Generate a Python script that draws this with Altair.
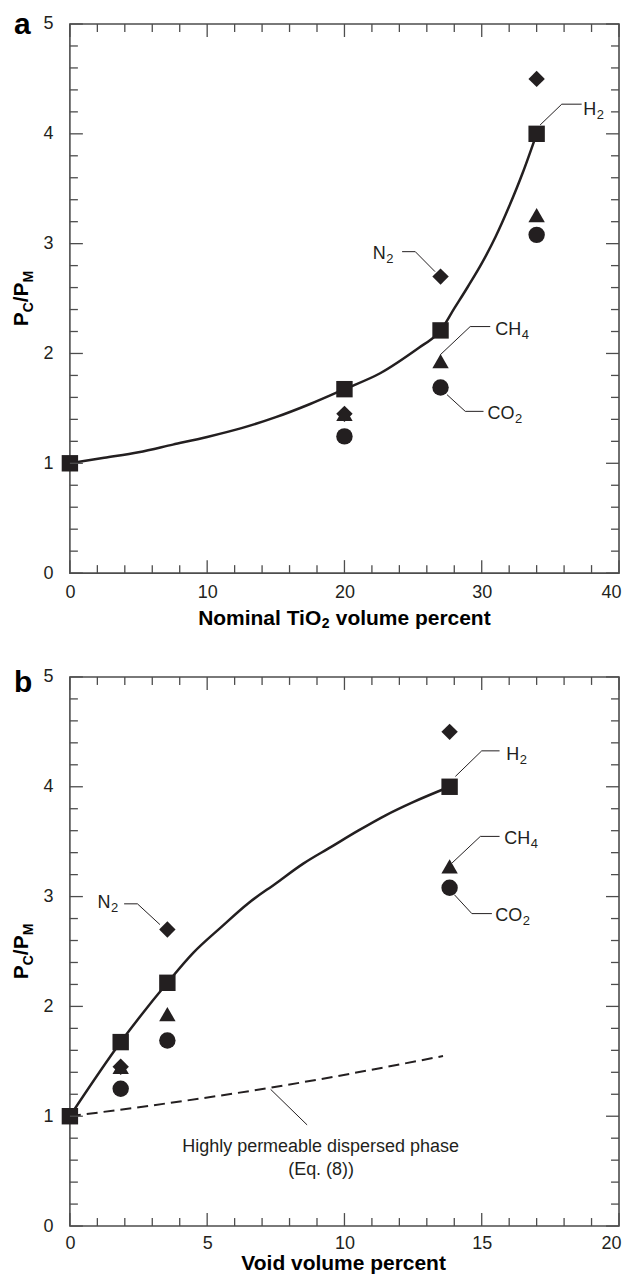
import altair as alt
import pandas as pd

FONT = "Liberation Sans"
INK = "#231f20"
AX = "#4d4d4d"
W = H = 550

# ---------------- data: panel a (nominal TiO2 volume percent) ----------------
gases = ["H2", "N2", "CH4", "CO2"]
shapes = ["square", "diamond", "triangle-up", "circle"]

a_h2_x = [0, 20, 27, 34]
a_h2_y = [1.00, 1.675, 2.21, 4.00]
a_other_x = [20, 27, 34]
a_n2_y = [1.45, 2.70, 4.50]
a_ch4_y = [1.45, 1.93, 3.26]
a_co2_y = [1.245, 1.69, 3.08]

a_curve_x = [0, 2.5, 5, 7.5, 10, 12.5, 15, 17.5, 20, 22.6, 25.4, 26.7, 27, 28, 29, 30, 31, 32, 33, 34]
a_curve_y = [1.00, 1.05, 1.10, 1.17, 1.24, 1.32, 1.42, 1.54, 1.675, 1.82, 2.05, 2.17, 2.21,
             2.41, 2.61, 2.82, 3.06, 3.34, 3.65, 4.00]

# ---------------- data: panel b (void volume percent) ----------------
b_h2_x = [0, 1.85, 3.55, 13.83]
b_h2_y = [1.00, 1.675, 2.215, 4.00]
b_other_x = [1.85, 3.55, 13.83]
b_n2_y = [1.45, 2.70, 4.50]
b_ch4_y = [1.45, 1.93, 3.275]
b_co2_y = [1.25, 1.69, 3.08]

b_curve_x = [0, 1.85, 3.55, 4.5, 5.5, 6.5, 7.5, 8.5, 9.5, 10.5, 11.5, 12.5, 13.83]
b_curve_y = [1.00, 1.675, 2.215, 2.49, 2.72, 2.94, 3.12, 3.30, 3.45, 3.60, 3.74, 3.86, 4.00]

b_dash_x = [0, 3.55, 7.31, 8.4, 13.59]
b_dash_y = [1.00, 1.118, 1.26, 1.306, 1.548]

# ---------------- labels (main text, subscript) ----------------
a_label_main = ["H", "N", "CH", "CO"]
a_label_sub = ["2", "2", "4", "2"]
a_label_x = [37.4, 22.07, 30.98, 30.42]
a_label_y = [4.22, 2.905, 2.21, 1.45]
a_leader_x = [[34.25, 35.83, 37.28], [24.2, 25.16, 26.6], [26.98, 29.16, 30.62], [27.47, 28.8, 30.13]]
a_leader_y = [[4.08, 4.27, 4.27], [2.927, 2.927, 2.745], [1.988, 2.245, 2.245], [1.625, 1.473, 1.473]]

b_label_main = ["H", "N", "CH", "CO"]
b_label_sub = ["2", "2", "4", "2"]
b_label_x = [15.89, 1.007, 15.82, 15.49]
b_label_y = [4.29, 2.943, 3.525, 2.827]
b_leader_x = [[14.04, 15.0, 15.65], [1.975, 2.46, 3.28], [13.92, 14.95, 15.65], [14.0, 14.64, 15.37], [7.31, 8.64]]
b_leader_y = [[4.094, 4.327, 4.327], [2.934, 2.934, 2.745], [3.306, 3.548, 3.548], [3.018, 2.845, 2.845], [1.245, 0.921]]
b_note_text = ["Highly permeable dispersed phase", "(Eq. (8))"]
b_note_x = [9.13, 9.15]
b_note_y = [0.723, 0.512]

# ---------------- ticks ----------------
a_x_major = [0, 10, 20, 30, 40]
a_x_minor = [2, 4, 6, 8, 12, 14, 16, 18, 22, 24, 26, 28, 32, 34, 36, 38]
b_x_major = [0, 5, 10, 15, 20]
b_x_minor = [1, 2, 3, 4, 6, 7, 8, 9, 11, 12, 13, 14, 16, 17, 18, 19]
y_major = [0, 1, 2, 3, 4, 5]
y_minor = [0.2, 0.4, 0.6, 0.8, 1.2, 1.4, 1.6, 1.8, 2.2, 2.4, 2.6, 2.8,
           3.2, 3.4, 3.6, 3.8, 4.2, 4.4, 4.6, 4.8]

# approximate Arial/Liberation advance widths (em)
REG = {"H": 0.722, "N": 0.722, "C": 0.722, "O": 0.778}


def text_piece(t, x, y, fs, weight="normal", align="left", baseline="middle",
               angle=None, dx=0, dy=0):
    kw = dict(font=FONT, fontSize=fs, fontWeight=weight, color=INK if weight == "normal" else "black",
              align=align, baseline=baseline, dx=dx, dy=dy)
    if angle is not None:
        kw["angle"] = angle
    return (alt.Chart(pd.DataFrame({"t": [t]})).mark_text(**kw)
            .encode(text="t:N", x=x, y=y))


def panel(letter, letter_base, xdom, x_major, x_minor, title_pieces, title_y, xpad,
          pts, curve, dash, lab_main, lab_sub, lab_x, lab_y, leaders, notes):
    xmax = xdom[1]
    xaxis = alt.Axis(values=x_major, ticks=False, domain=False, grid=False,
                     labelFont=FONT, labelFontSize=18, labelColor=INK,
                     labelPadding=xpad, labelFlush=False, labelOverlap=False,
                     labelAlign={"condition": {"test": f"datum.value == {xmax}", "value": "right"},
                                 "value": "center"},
                     labelOffset={"condition": {"test": f"datum.value == {xmax}", "value": 2},
                                  "value": 0},
                     title=None, format="d")
    yaxis = alt.Axis(values=y_major, ticks=False, domain=False, grid=False,
                     labelFont=FONT, labelFontSize=18, labelColor=INK,
                     labelPadding=17, labelFlush=False, labelOverlap=False,
                     title=None, format="d")

    def X(f="x"):
        return alt.X(f + ":Q", scale=alt.Scale(domain=xdom, nice=False, zero=False), axis=xaxis)

    def Y(f="y"):
        return alt.Y(f + ":Q", scale=alt.Scale(domain=[0, 5], nice=False, zero=False), axis=yaxis)

    layers = []
    layers.append(alt.Chart(curve).mark_line(color=INK, strokeWidth=2.5, interpolate="monotone")
                  .encode(x=X(), y=Y()))
    if dash is not None:
        layers.append(alt.Chart(dash).mark_line(color=INK, strokeWidth=2, strokeDash=[11, 6],
                                                interpolate="monotone")
                      .encode(x=X(), y=Y()))
    layers.append(alt.Chart(leaders).mark_line(color=INK, strokeWidth=1)
                  .encode(x=X(), y=Y(), detail="seg:N", order="ord:Q"))
    layers.append(alt.Chart(pts).mark_point(filled=True, opacity=1, color=INK, size=270)
                  .encode(x=X(), y=Y(),
                          shape=alt.Shape("gas:N", scale=alt.Scale(domain=gases, range=shapes),
                                          legend=None)))
    # gas labels with real subscripts
    for m, s, lx, ly in zip(lab_main, lab_sub, lab_x, lab_y):
        df = pd.DataFrame({"x": [lx], "y": [ly], "t": [m]})
        layers.append(alt.Chart(df).mark_text(font=FONT, fontSize=18, color=INK,
                                              align="left", baseline="middle")
                      .encode(x=X(), y=Y(), text="t:N"))
        wpx = sum(REG[c] for c in m) * 18 + 0.5
        df2 = pd.DataFrame({"x": [lx], "y": [ly], "t": [s]})
        layers.append(alt.Chart(df2).mark_text(font=FONT, fontSize=13, color=INK,
                                               align="left", baseline="middle", dx=wpx, dy=5)
                      .encode(x=X(), y=Y(), text="t:N"))
    if notes is not None:
        layers.append(alt.Chart(notes).mark_text(font=FONT, fontSize=18, color=INK,
                                                 align="center", baseline="middle")
                      .encode(x=X(), y=Y(), text="label:N"))

    # inward ticks on all four sides
    for vals, ln in ((x_major, 13), (x_minor, 8)):
        df = pd.DataFrame({"x": vals})
        layers.append(alt.Chart(df).mark_rule(color=AX, strokeWidth=1.3)
                      .encode(x=X(), y=alt.value(H), y2=alt.value(H - ln)))
        layers.append(alt.Chart(df).mark_rule(color=AX, strokeWidth=1.3)
                      .encode(x=X(), y=alt.value(0), y2=alt.value(ln)))
    for vals, ln in ((y_major, 13), (y_minor, 8)):
        df = pd.DataFrame({"y": vals})
        layers.append(alt.Chart(df).mark_rule(color=AX, strokeWidth=1.3)
                      .encode(y=Y(), x=alt.value(0), x2=alt.value(ln)))
        layers.append(alt.Chart(df).mark_rule(color=AX, strokeWidth=1.3)
                      .encode(y=Y(), x=alt.value(W), x2=alt.value(W - ln)))

    # panel letter
    layers.append(text_piece(letter, alt.value(-56), alt.value(letter_base), 30,
                             weight="bold", baseline="alphabetic"))

    # x title built from pieces (bold 21, subscript bold 14)
    total = sum(w for _, _, w, _ in title_pieces)
    xpos = W / 2 - total / 2
    for t, fs, w, dy in title_pieces:
        if t.strip():
            layers.append(text_piece(t, alt.value(xpos), alt.value(H + title_y), fs,
                                     weight="bold", dy=dy))
        xpos += w

    # y title P_C/P_M built from pieces (rotated)
    big, small = 21, 14
    pieces = [("P", big, 0.667), ("C", small, 0.722), ("/", big, 0.278),
              ("P", big, 0.667), ("M", small, 0.833)]
    ytot = sum(fs * w for _, fs, w in pieces)
    ypos = H / 2 + ytot / 2
    for t, fs, w in pieces:
        xb = -42 if fs == big else -37
        layers.append(text_piece(t, alt.value(xb), alt.value(ypos), fs, weight="bold",
                                 baseline="alphabetic", angle=270))
        ypos -= fs * w

    return alt.layer(*layers).properties(width=W, height=H)


def points_df(h2x, h2y, ox, n2, ch4, co2):
    rows = []
    for x, y in zip(h2x, h2y):
        rows.append({"x": x, "y": y, "gas": "H2"})
    for x, y in zip(ox, n2):
        rows.append({"x": x, "y": y, "gas": "N2"})
    for x, y in zip(ox, ch4):
        rows.append({"x": x, "y": y, "gas": "CH4"})
    for x, y in zip(ox, co2):
        rows.append({"x": x, "y": y, "gas": "CO2"})
    return pd.DataFrame(rows)


def leaders_df(lx, ly):
    rows = []
    for i, (xs, ys) in enumerate(zip(lx, ly)):
        for j, (x, y) in enumerate(zip(xs, ys)):
            rows.append({"x": x, "y": y, "seg": i, "ord": j})
    return pd.DataFrame(rows)


# title pieces: (text, font size, advance width px, baseline shift)
a_title = [("Nominal TiO", 21, 5.89 * 21, 0), ("2", 14, 0.556 * 14 + 0.5, 5),
           (" ", 21, 0.278 * 21, 0), ("volume percent", 21, 7.39 * 21, 0)]
b_title = [("Void volume percent", 21, 9.836 * 21, 0)]

pa = panel("a", 10, [0, 40], a_x_major, a_x_minor, a_title, 46, 10,
           points_df(a_h2_x, a_h2_y, a_other_x, a_n2_y, a_ch4_y, a_co2_y),
           pd.DataFrame({"x": a_curve_x, "y": a_curve_y}),
           None,
           a_label_main, a_label_sub, a_label_x, a_label_y,
           leaders_df(a_leader_x, a_leader_y),
           None)

pb = panel("b", 14.7, [0, 20], b_x_major, b_x_minor, b_title, 38, 8,
           points_df(b_h2_x, b_h2_y, b_other_x, b_n2_y, b_ch4_y, b_co2_y),
           pd.DataFrame({"x": b_curve_x, "y": b_curve_y}),
           pd.DataFrame({"x": b_dash_x, "y": b_dash_y}),
           b_label_main, b_label_sub, b_label_x, b_label_y,
           leaders_df(b_leader_x, b_leader_y),
           pd.DataFrame({"x": b_note_x, "y": b_note_y, "label": b_note_text}))

chart = (alt.vconcat(pa, pb, spacing=34)
         .properties(padding={"left": 2, "top": 0, "right": 0, "bottom": 0}, background="white")
         .configure_view(stroke=AX, strokeWidth=1.6))

chart.save("out.html", embed_options={"renderer": "svg", "actions": False})
